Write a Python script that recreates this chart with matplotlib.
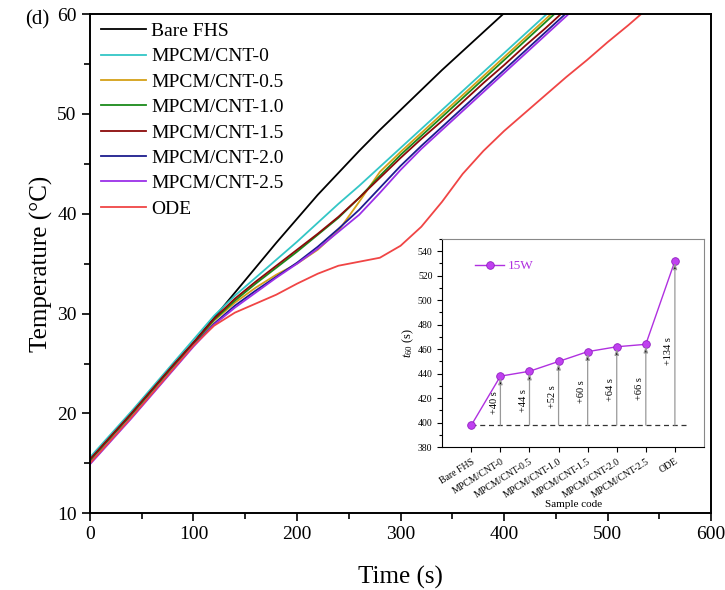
import numpy as np
import matplotlib
matplotlib.use("Agg")
from matplotlib import pyplot as plt
from matplotlib.ticker import MultipleLocator

plt.rcParams['font.family'] = ['Liberation Serif', 'DejaVu Serif']
plt.rcParams['mathtext.fontset'] = 'custom'
plt.rcParams['mathtext.it'] = 'Liberation Serif:italic'
plt.rcParams['mathtext.rm'] = 'Liberation Serif'

# time axis (s), sampled every 20 s
time_s = [0, 20, 40, 60, 80, 100, 120, 140, 160, 180, 200, 220, 240, 260, 280,
          300, 320, 340, 360, 380, 400, 420, 440, 460, 480, 500, 520, 540]

# temperatures (degC)
bare_fhs = [15.4, 17.7, 20.0, 22.4, 24.8, 27.1, 29.6, 32.1, 34.6, 37.1, 39.5, 41.9,
            44.1, 46.3, 48.4, 50.4, 52.4, 54.4, 56.3, 58.2, 60.1]
cnt_0 = [15.6, 17.9, 20.2, 22.6, 25.0, 27.4, 29.8, 31.8, 33.6, 35.4, 37.2, 39.1,
         41.0, 42.8, 44.7, 46.6, 48.5, 50.4, 52.3, 54.2, 56.1, 58.0, 59.9, 61.8]
cnt_05 = [15.3, 17.6, 19.9, 22.3, 24.7, 27.0, 29.3, 31.1, 32.6, 33.9, 35.0, 36.4,
          38.3, 41.2, 44.2, 46.2, 48.1, 50.0, 51.9, 53.8, 55.7, 57.6, 59.5, 61.4]
cnt_10 = [15.3, 17.6, 19.9, 22.3, 24.7, 27.0, 29.4, 31.3, 33.0, 34.6, 36.2, 37.9,
          39.6, 41.6, 43.8, 45.9, 47.8, 49.7, 51.6, 53.5, 55.4, 57.3, 59.2, 61.1]
cnt_15 = [15.4, 17.7, 20.0, 22.4, 24.8, 27.1, 29.5, 31.5, 33.2, 34.8, 36.4, 38.0,
          39.7, 41.6, 43.6, 45.6, 47.5, 49.3, 51.2, 53.1, 54.9, 56.8, 58.6, 60.5]
cnt_20 = [15.0, 17.3, 19.6, 22.0, 24.4, 26.8, 29.0, 30.8, 32.3, 33.7, 35.1, 36.7,
          38.5, 40.4, 42.6, 44.8, 46.8, 48.7, 50.6, 52.5, 54.4, 56.3, 58.2, 60.1]
cnt_25 = [14.9, 17.2, 19.5, 21.9, 24.3, 26.7, 28.9, 30.6, 32.1, 33.6, 35.0, 36.5,
          38.2, 39.9, 42.1, 44.4, 46.5, 48.4, 50.3, 52.2, 54.1, 56.0, 57.9, 59.8, 61.7]
ode = [15.0, 17.3, 19.6, 22.0, 24.4, 26.8, 28.8, 30.1, 31.0, 31.9, 33.0, 34.0,
       34.8, 35.2, 35.6, 36.8, 38.7, 41.2, 44.0, 46.3, 48.3, 50.1, 51.9, 53.7,
       55.4, 57.2, 58.9, 60.7]

series_names = ['Bare FHS', 'MPCM/CNT-0', 'MPCM/CNT-0.5', 'MPCM/CNT-1.0',
                'MPCM/CNT-1.5', 'MPCM/CNT-2.0', 'MPCM/CNT-2.5', 'ODE']
series_vals = [bare_fhs, cnt_0, cnt_05, cnt_10, cnt_15, cnt_20, cnt_25, ode]
series_colors = ['#000000', '#33c6c6', '#d4a017', '#1a8a1a', '#8b0a0a',
                 '#1c1c8e', '#9b30e8', '#f04545']

# inset data: time to reach 60 degC
sample_codes = ['Bare FHS', 'MPCM/CNT-0', 'MPCM/CNT-0.5', 'MPCM/CNT-1.0',
                'MPCM/CNT-1.5', 'MPCM/CNT-2.0', 'MPCM/CNT-2.5', 'ODE']
t60 = [398, 438, 442, 450, 458, 462, 464, 532]
gain_labels = ['+40 s', '+44 s', '+52 s', '+60 s', '+64 s', '+66 s', '+134 s']

fig = plt.figure(figsize=(7.25, 5.9), dpi=100)
ax = fig.add_axes([0.124, 0.130, 0.857, 0.846])

for name, vals, col in zip(series_names, series_vals, series_colors):
    ax.plot(time_s[:len(vals)], vals, color=col, lw=1.3, label=name)

ax.set_xlim(0, 600)
ax.set_ylim(10, 60)
ax.xaxis.set_major_locator(MultipleLocator(100))
ax.xaxis.set_minor_locator(MultipleLocator(50))
ax.yaxis.set_major_locator(MultipleLocator(10))
ax.yaxis.set_minor_locator(MultipleLocator(5))
ax.tick_params(which='both', direction='out', width=1.2, labelsize=14)
ax.tick_params(which='major', length=6)
ax.tick_params(which='minor', length=4)
for sp in ax.spines.values():
    sp.set_linewidth(1.4)
ax.set_xlabel('Time (s)', fontsize=18, labelpad=16)
ax.set_ylabel('Temperature (°C)', fontsize=18, labelpad=3)

ax.legend(loc='upper left', frameon=False, fontsize=14, handlelength=2.35,
          handletextpad=0.25, labelspacing=0.4, borderaxespad=0.15,
          bbox_to_anchor=(0.0, 1.005))

fig.text(0.034, 0.958, '(d)', fontsize=15)

# inset
ins = fig.add_axes([0.610, 0.242, 0.361, 0.353])
xs = np.arange(len(sample_codes))
base = t60[0]
ins.axhline(base, xmin=0.11, xmax=0.93, color='#333333', ls='--', lw=0.9, dashes=(4, 3))
for i in range(1, len(t60)):
    ins.annotate('', xy=(xs[i], t60[i] - 1.5), xytext=(xs[i], base),
                 arrowprops=dict(arrowstyle='-|>,head_length=0.35,head_width=0.12',
                                 color='#999999', lw=0.9, shrinkA=0, shrinkB=0,
                                 fc='black', ec='#999999'))
    ins.text(xs[i] - 0.06, base + (t60[i] - base) * 0.45, gain_labels[i - 1],
             rotation=90, ha='right', va='center', fontsize=7.5)
ins.plot(xs, t60, color='#b030e0', lw=1.0, marker='o', ms=5.5,
         mfc='#c040f0', mec='#9020c0', mew=0.6, label='15W')
ins.set_xlim(-1, 8)
ins.set_ylim(380, 550)
ins.set_xticks(xs)
ins.set_xticklabels(sample_codes, rotation=32, ha='right', rotation_mode='anchor',
                    fontsize=7)
ins.yaxis.set_major_locator(MultipleLocator(20))
ins.yaxis.set_minor_locator(MultipleLocator(10))
ins.tick_params(which='both', direction='out', labelsize=7, width=0.8)
ins.tick_params(which='major', length=3.5)
ins.tick_params(which='minor', length=2)
ins.set_ylabel('$t_{60}$ (s)', fontsize=9, labelpad=1)
ins.set_xlabel('Sample code', fontsize=8, labelpad=0)
ins.spines['top'].set_color('#888888')
ins.spines['right'].set_color('#888888')
leg = ins.legend(loc='upper left', frameon=False, fontsize=9.5, handlelength=2.2,
                 handletextpad=0.3, bbox_to_anchor=(0.08, 0.955))
for t in leg.get_texts():
    t.set_color('#b030e0')

fig.savefig('out.png', dpi=100)
